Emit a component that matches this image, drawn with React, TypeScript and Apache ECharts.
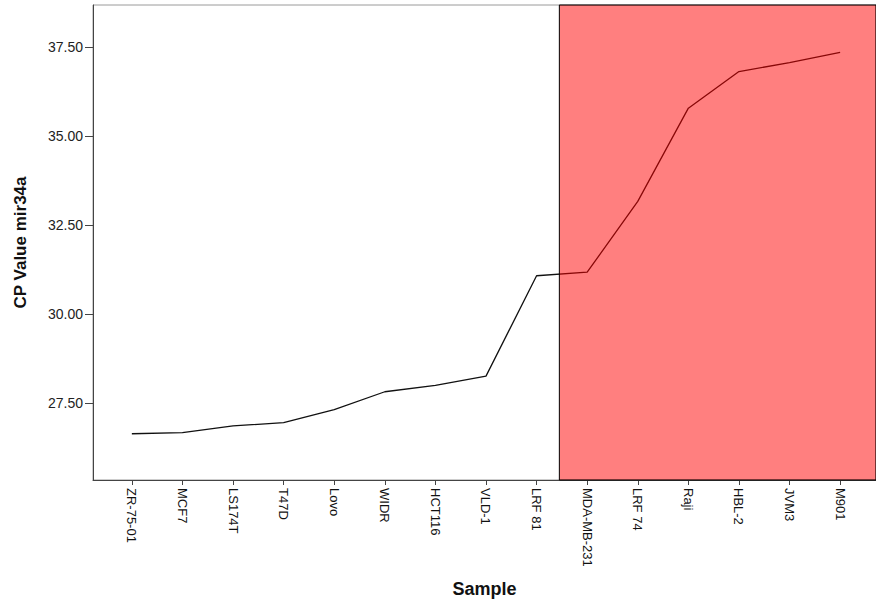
import React, { useEffect, useRef } from "react";
import * as echarts from "echarts";

const SAMPLES = [
  "ZR-75-01", "MCF7", "LS174T", "T47D", "Lovo", "WIDR", "HCT116", "VLD-1",
  "LRF 81", "MDA-MB-231", "LRF 74", "Raji", "HBL-2", "JVM3", "M901",
];
const CP_VALUES = [
  26.63, 26.66, 26.85, 26.94, 27.31, 27.81, 27.99, 28.25,
  31.07, 31.17, 33.16, 35.78, 36.81, 37.06, 37.35,
];
const Y_TICKS = [27.5, 30.0, 32.5, 35.0, 37.5];
const X_TICKS = SAMPLES.map((_, i) => i);

const X_MIN = -0.768;
const X_MAX = 14.709;
const Y_MIN = 25.33;
const Y_MAX = 38.68;
const RED_START = 8.45;

const FONT = "'Liberation Sans', Arial, sans-serif";

export default function App() {
  const ref = useRef<HTMLDivElement>(null);

  useEffect(() => {
    if (!ref.current) return;
    const chart = echarts.init(ref.current, undefined, { renderer: "svg" });
    chart.setOption({
      animation: false,
      backgroundColor: "#ffffff",
      textStyle: { fontFamily: FONT },
      grid: {
        left: 93,
        top: 5,
        right: -3,
        bottom: 120,
        show: true,
        borderColor: "#9a9a9a",
        borderWidth: 1,
        backgroundColor: "transparent",
      },
      xAxis: {
        type: "value",
        min: X_MIN,
        max: X_MAX,
        name: "Sample",
        nameLocation: "middle",
        nameGap: 100,
        nameTextStyle: { fontSize: 18, fontWeight: "bold", color: "#111", fontFamily: FONT },
        splitLine: { show: false },
        axisLine: { show: true, onZero: false, lineStyle: { color: "#444", width: 1 } },
        axisTick: { show: true, length: 5, customValues: X_TICKS, lineStyle: { color: "#444" } },
        axisLabel: {
          show: true,
          customValues: X_TICKS,
          rotate: -90,
          margin: 8,
          fontSize: 13,
          color: "#111",
          fontFamily: FONT,
          formatter: (v: number) => SAMPLES[Math.round(v)] ?? "",
        },
      },
      yAxis: {
        type: "value",
        min: Y_MIN,
        max: Y_MAX,
        name: "CP Value mir34a",
        nameLocation: "middle",
        nameGap: 64,
        nameTextStyle: { fontSize: 17, fontWeight: "bold", color: "#111", fontFamily: FONT },
        splitLine: { show: false },
        axisLine: { show: true, onZero: false, lineStyle: { color: "#444", width: 1 } },
        axisTick: { show: true, length: 8, customValues: Y_TICKS, lineStyle: { color: "#444" } },
        axisLabel: {
          show: true,
          customValues: Y_TICKS,
          margin: 10,
          fontSize: 14,
          color: "#222",
          fontFamily: FONT,
          formatter: (v: number) => v.toFixed(2),
        },
      },
      series: [
        {
          type: "line",
          z: 2,
          data: SAMPLES.map((_, i) => [i, CP_VALUES[i]]),
          symbol: "none",
          lineStyle: { color: "#111", width: 1.3 },
        },
        {
          type: "scatter",
          z: 5,
          data: [],
          markArea: {
            z: 5,
            silent: true,
            itemStyle: {
              color: "rgba(255,0,0,0.5)",
              borderColor: "#000",
              borderWidth: 1,
            },
            data: [[{ xAxis: RED_START }, { xAxis: X_MAX }]],
          },
        },
      ],
    });
    return () => chart.dispose();
  }, []);

  return (
    <div
      ref={ref}
      style={{ position: "fixed", left: 0, top: 0, width: 876, height: 603 }}
    />
  );
}
